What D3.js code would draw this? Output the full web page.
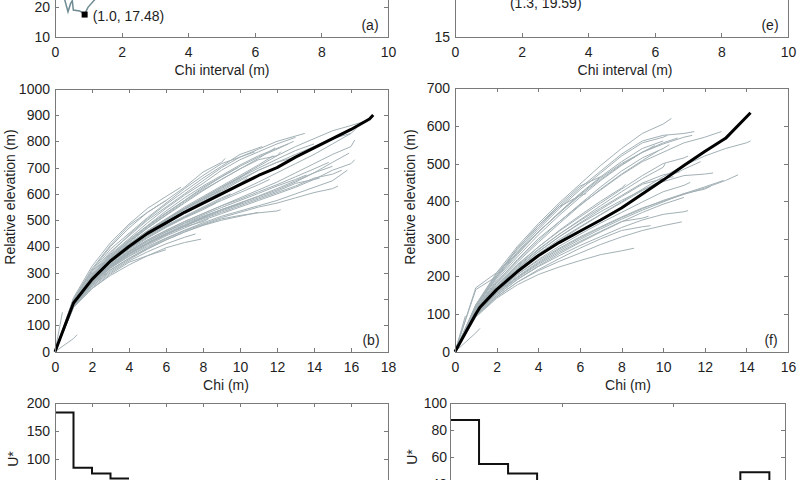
<!DOCTYPE html>
<html>
<head>
<meta charset="utf-8">
<script src="https://cdn.jsdelivr.net/npm/d3@7"></script>
<style>
  body { margin: 0; background: #fff; }
  svg { display: block; font-family: "Liberation Sans", Arial, sans-serif; }
  .axis path, .axis line { stroke: #7a7a7a; stroke-width: 1; shape-rendering: crispEdges; }
  .axis text { font-size: 14px; fill: #1e1e1e; }
  .lbl { font-size: 14px; fill: #1e1e1e; }
  .gray { fill: none; stroke: #a3b1b6; stroke-width: 1; }
  .mean { fill: none; stroke: #000; stroke-width: 3; stroke-linejoin: round; }
  .step { fill: none; stroke: #111; stroke-width: 2; }
</style>
</head>
<body>
<svg width="800" height="480"></svg>
<script>
// ---- data ----
// (a) misfit vs chi interval, only the bottom of the curve is visible
const curveA = [[0.28, 22.9], [0.39, 18.4], [0.47, 21.2], [0.52, 22.1], [0.55, 19.0],
  [0.74, 18.7], [0.89, 17.6], [0.99, 19.9], [1.23, 22.9]]
const bestA = [0.89, 17.48]
const bestALabel = '(1.0, 17.48)'
const bestELabel = '(1.3, 19.59)'

// (b) mean chi profile (black) and tributary profiles (gray)
const meanChiB = [0, 1, 2, 3, 4, 5, 6, 7, 8, 9, 10, 11, 12, 13, 14, 15, 16, 17, 17.2]
const meanElevB = [0, 185, 275, 345, 400, 450, 490, 530, 565, 600, 635, 670, 700, 740, 775, 810, 845, 885, 900]
// z[i] is the elevation at chi = i, the last value is at chi = end
const tribsB = [
  { end: 13.5, z: [0, 200, 300, 380, 440, 500, 550, 600, 650, 700, 740, 770, 800, 830] },
  { end: 13.0, z: [0, 190, 290, 370, 430, 490, 545, 595, 640, 690, 730, 760, 790, 815] },
  { end: 12.6, z: [0, 180, 285, 365, 425, 480, 535, 585, 630, 670, 710, 745, 790] },
  { end: 11.2, z: [0, 195, 295, 375, 445, 505, 560, 610, 660, 705, 750, 780] },
  { end: 12.9, z: [0, 185, 290, 360, 420, 475, 525, 575, 625, 665, 705, 740, 770, 800] },
  { end: 10.8, z: [0, 200, 305, 390, 450, 510, 565, 620, 670, 715, 740, 760] },
  { end: 12.2, z: [0, 190, 280, 355, 415, 470, 520, 570, 615, 655, 695, 730, 745, 760] },
  { end: 9.2, z: [0, 200, 315, 405, 480, 530, 575, 625, 683, 720, 735] },
  { end: 6.8, z: [0, 205, 325, 415, 485, 545, 590, 625] },
  { end: 6.0, z: [0, 195, 310, 400, 470, 530, 575] },
  { end: 16.7, z: [0, 185, 280, 350, 410, 460, 505, 545, 585, 625, 665, 705, 745, 780, 810, 840, 860, 875] },
  { end: 16.3, z: [0, 180, 275, 345, 400, 450, 490, 530, 570, 610, 650, 690, 720, 750, 780, 810, 830, 850] },
  { end: 16.2, z: [0, 180, 265, 330, 380, 425, 460, 495, 525, 555, 585, 615, 645, 680, 715, 750, 780, 805] },
  { end: 16.0, z: [0, 182, 270, 338, 390, 435, 475, 510, 545, 580, 612, 645, 680, 715, 750, 790, 830] },
  { end: 15.9, z: [0, 175, 260, 320, 370, 410, 445, 480, 510, 540, 565, 590, 615, 645, 680, 720, 755] },
  { end: 15.5, z: [0, 178, 262, 325, 372, 412, 448, 478, 505, 530, 555, 580, 605, 630, 660, 675, 690] },
  { end: 15.3, z: [0, 170, 250, 310, 355, 395, 430, 460, 485, 510, 530, 550, 565, 585, 605, 620, 630] },
  { end: 16.2, z: [0, 175, 258, 318, 365, 405, 440, 470, 500, 525, 550, 575, 600, 625, 655, 690, 715, 730] },
  { end: 14.8, z: [0, 182, 268, 332, 382, 425, 462, 495, 525, 555, 580, 608, 635, 665, 695, 720] },
  { end: 15.8, z: [0, 176, 258, 318, 362, 400, 432, 462, 490, 515, 535, 555, 575, 600, 625, 650, 690] },
  { end: 12.2, z: [0, 174, 255, 312, 355, 392, 425, 455, 482, 505, 518, 528, 535, 540] },
  { end: 11.0, z: [0, 172, 250, 305, 350, 390, 425, 455, 480, 500, 515, 530] },
  { end: 14.3, z: [0, 180, 262, 322, 370, 410, 445, 478, 508, 535, 560, 585, 610, 640, 655, 660] },
  { end: 7.9, z: [0, 170, 240, 290, 330, 365, 395, 415, 428] },
  { end: 7.6, z: [0, 172, 245, 300, 345, 380, 410, 435, 448] },
  { end: 6.0, z: [0, 168, 240, 295, 340, 365, 388] },
  { end: 11.8, z: [0, 190, 285, 355, 410, 460, 505, 550, 590, 630, 670, 710, 745] },
  { end: 10.6, z: [0, 185, 278, 350, 405, 455, 500, 540, 580, 620, 660, 690] },
  { end: 9.8, z: [0, 183, 272, 342, 395, 445, 485, 525, 560, 595, 625] },
  { end: 9.5, z: [0, 180, 270, 338, 390, 440, 480, 515, 550, 585, 600] },
  { end: 13.1, z: [0, 186, 276, 348, 402, 452, 495, 535, 575, 615, 655, 690, 720, 740, 745] },
  { end: 11.6, z: [0, 184, 270, 340, 392, 440, 478, 512, 545, 575, 605, 635, 655] },
  { end: 8.7, z: [0, 178, 266, 333, 385, 432, 472, 508, 540, 565] },
  { end: 9.9, z: [0, 192, 290, 365, 425, 478, 528, 575, 620, 665, 700] },
  { end: 11.9, z: [0, 188, 285, 360, 418, 470, 518, 565, 612, 655, 695, 735, 775] },
  { end: 10.2, z: [0, 176, 262, 328, 378, 420, 455, 488, 515, 540, 562, 570] },
  { end: 8.3, z: [0, 175, 260, 325, 372, 412, 445, 475, 495, 505] },
  { end: 14.0, z: [0, 188, 282, 352, 408, 458, 502, 545, 585, 625, 662, 698, 732, 765, 790] },
  { end: 10.4, z: [0, 182, 274, 344, 398, 448, 492, 532, 570, 605, 640, 660] },
  { end: 13.6, z: [0, 178, 266, 330, 378, 420, 456, 490, 520, 548, 575, 602, 630, 655, 672] },
  { end: 9.0, z: [0, 186, 278, 348, 404, 455, 500, 542, 580, 615] },
  { end: 15.0, z: [0, 176, 262, 326, 374, 415, 450, 483, 512, 540, 566, 592, 620, 650, 680, 705] },
  { end: 1.2, z: [0, 50, 65] },
  { end: 0.4, z: [0, 150] },
  { end: 1.6, z: [0, 190, 230] }
]

// (f) same for the second basin
const meanChiF = [0, 1, 1.2, 2, 3, 4, 5, 6, 7, 8, 9, 10, 11, 12, 13, 14.2]
const meanElevF = [0, 100, 118, 165, 213, 255, 290, 320, 350, 382, 419, 456, 495, 532, 567, 635]
const tribsF = [
  { end: 10.4, z: [0, 125, 210, 280, 340, 395, 445, 495, 540, 580, 605, 620] },
  { end: 10.2, z: [0, 120, 200, 265, 325, 380, 430, 475, 520, 555, 570, 575] },
  { end: 10.0, z: [0, 118, 195, 258, 318, 370, 420, 465, 505, 540, 560] },
  { end: 11.5, z: [0, 122, 205, 270, 330, 385, 435, 480, 525, 560, 575, 580, 585] },
  { end: 10.7, z: [0, 115, 190, 252, 310, 362, 410, 455, 495, 530, 555, 568] },
  { end: 9.6, z: [0, 120, 198, 262, 318, 368, 418, 462, 500, 530, 548] },
  { end: 7.0, z: [0, 165, 200, 275, 335, 390, 440, 465] },
  { end: 6.3, z: [0, 125, 205, 275, 335, 385, 415, 420] },
  { end: 12.8, z: [0, 112, 185, 245, 300, 345, 390, 430, 470, 505, 530, 555, 570, 585] },
  { end: 11.4, z: [0, 170, 210, 262, 318, 368, 415, 458, 497, 530, 552, 570, 575] },
  { end: 14.2, z: [0, 105, 168, 218, 260, 298, 332, 365, 398, 432, 465, 495, 520, 540, 555, 560] },
  { end: 13.6, z: [0, 100, 158, 205, 242, 275, 305, 332, 358, 382, 400, 418, 435, 455, 470] },
  { end: 12.4, z: [0, 108, 170, 222, 265, 305, 340, 372, 402, 430, 452, 468, 472, 475] },
  { end: 10.8, z: [0, 110, 175, 228, 272, 312, 348, 382, 415, 448, 470, 478] },
  { end: 11.2, z: [0, 112, 178, 232, 278, 320, 358, 395, 432, 468, 500, 515, 520] },
  { end: 10.5, z: [0, 105, 168, 220, 265, 305, 342, 378, 412, 445, 460, 465] },
  { end: 10.3, z: [0, 115, 185, 242, 295, 345, 392, 438, 480, 515, 540, 550] },
  { end: 11.2, z: [0, 98, 150, 192, 226, 255, 282, 306, 330, 350, 365, 372, 375] },
  { end: 10.9, z: [0, 95, 145, 185, 215, 240, 262, 285, 305, 322, 335, 345] },
  { end: 8.6, z: [0, 92, 142, 178, 205, 225, 242, 258, 268, 275] },
  { end: 12.3, z: [0, 100, 155, 198, 235, 268, 298, 326, 352, 376, 398, 420, 432, 440] },
  { end: 11.3, z: [0, 102, 160, 205, 245, 280, 312, 342, 370, 398, 425, 442, 450] },
  { end: 11.0, z: [0, 97, 150, 192, 228, 260, 290, 318, 345, 370, 392, 410] },
  { end: 9.3, z: [0, 99, 154, 196, 232, 264, 293, 320, 346, 355, 360] },
  { end: 9.4, z: [0, 94, 146, 185, 218, 247, 275, 300, 322, 332, 335] },
  { end: 12.9, z: [0, 102, 158, 200, 238, 272, 302, 330, 356, 380, 402, 420, 438, 455] },
  { end: 9.8, z: [0, 112, 182, 238, 290, 340, 388, 432, 472, 508, 535] },
  { end: 11.8, z: [0, 104, 165, 214, 256, 294, 330, 364, 396, 428, 458, 485, 505] },
  { end: 10.1, z: [0, 108, 172, 225, 270, 312, 350, 388, 425, 460, 490, 500] },
  { end: 8.2, z: [0, 110, 176, 230, 278, 322, 362, 400, 435, 445] },
  { end: 0.5, z: [0, 95] },
  { end: 1.2, z: [0, 50, 62] }
]

// bottom panels: U* per chi interval (null = below the visible part)
const stepWidthC = 1.0
const uStarC = [183, 85, 75, 66]
const stepWidthG = 1.3
const uStarG = [87.5, 55, 48, null, null, null, null, null, null, null, 49, null]

const svg = d3.select('svg')
const fmt = d3.format('d')

drawTopPanel({
  x: d3.scaleLinear().domain([0, 10]).range([55, 388]),
  y: d3.scaleLinear().domain([10, 40]).range([37, -53]),
  yTicks: [10, 20], letter: '(a)', labelX: 222
}, (g, x, y) => {
  g.append('path').datum(curveA)
    .attr('fill', 'none').attr('stroke', '#6f8b94').attr('stroke-width', 1.5)
    .attr('d', d3.line().x(d => x(d[0])).y(d => y(d[1])))
  g.append('rect')
    .attr('x', x(bestA[0]) - 3).attr('y', y(bestA[1]) - 3)
    .attr('width', 6).attr('height', 6).attr('fill', '#000')
  g.append('text').attr('class', 'lbl')
    .attr('x', x(bestA[0]) + 8).attr('y', y(bestA[1]) + 6).text(bestALabel)
})

drawTopPanel({
  x: d3.scaleLinear().domain([0, 10]).range([455, 788]),
  y: d3.scaleLinear().domain([15, 20]).range([37, -20]),
  yTicks: [15], letter: '(e)', labelX: 625
}, (g, x, y) => {
  g.append('text').attr('class', 'lbl')
    .attr('x', x(1.65)).attr('y', y(15) - 29).text(bestELabel)
})

drawChiPanel({
  x: d3.scaleLinear().domain([0, 18]).range([55, 388]),
  y: d3.scaleLinear().domain([0, 1000]).range([351.7, 88.7]),
  xTicks: d3.range(0, 19, 2), yTicks: d3.range(0, 1001, 100),
  tribs: tribsB, meanChi: meanChiB, meanElev: meanElevB,
  letter: '(b)', labelX: 226, yLabelX: 15
})

drawChiPanel({
  x: d3.scaleLinear().domain([0, 16]).range([455, 788]),
  y: d3.scaleLinear().domain([0, 700]).range([351.7, 88.3]),
  xTicks: d3.range(0, 17, 2), yTicks: d3.range(0, 701, 100),
  tribs: tribsF, meanChi: meanChiF, meanElev: meanElevF,
  letter: '(f)', labelX: 628, yLabelX: 415
})

drawStepPanel({
  x: d3.scaleLinear().domain([0, 18]).range([55, 388]),
  y: d3.scaleLinear().domain([0, 200]).range([515.6, 403]),
  xTicks: d3.range(0, 19, 2), yTicks: d3.range(0, 201, 50), pad: 5,
  values: uStarC, width: stepWidthC, uX: 18, uY: 459
})

drawStepPanel({
  x: d3.scaleLinear().domain([0, 15]).range([450, 785]),
  y: d3.scaleLinear().domain([0, 100]).range([538.7, 403]),
  xTicks: [0, 5, 10, 15], yTicks: d3.range(0, 101, 20), pad: 3,
  values: uStarG, width: stepWidthG, uX: 417, uY: 457
})

// ---- axes helpers (matlab style: box, ticks pointing in) ----
function axisG (cls) {
  return svg.append('g').attr('class', 'axis ' + cls)
}

function drawBottom (x, y, ticks, labels) {
  axisG('bottom').attr('transform', `translate(0,${y.range()[0]})`)
    .call(d3.axisBottom(x).tickValues(ticks).tickSizeInner(-4).tickSizeOuter(0)
      .tickPadding(10).tickFormat(labels ? fmt : ''))
}

function drawTop (x, y, ticks) {
  axisG('top').attr('transform', `translate(0,${y.range()[1]})`)
    .call(d3.axisTop(x).tickValues(ticks).tickSizeInner(-4).tickSizeOuter(0).tickFormat(''))
}

function drawLeft (x, y, ticks, pad) {
  axisG('left').attr('transform', `translate(${x.range()[0]},0)`)
    .call(d3.axisLeft(y).tickValues(ticks).tickSizeInner(-4).tickSizeOuter(0)
      .tickPadding(pad).tickFormat(fmt))
}

function drawRight (x, y, ticks) {
  axisG('right').attr('transform', `translate(${x.range()[1]},0)`)
    .call(d3.axisRight(y).tickValues(ticks).tickSizeInner(-4).tickSizeOuter(0).tickFormat(''))
}

function drawTopPanel ({ x, y, yTicks, letter, labelX }, drawContent) {
  const xTicks = d3.range(0, 11, 2)
  drawContent(svg.append('g'), x, y)
  drawBottom(x, y, xTicks, true)
  drawLeft(x, y, yTicks, 5)
  drawRight(x, y, yTicks)
  svg.append('text').attr('class', 'lbl').attr('text-anchor', 'middle')
    .attr('x', x.range()[1] - 18).attr('y', y.range()[0] - 7).text(letter)
  svg.append('text').attr('class', 'lbl').attr('text-anchor', 'middle')
    .attr('x', labelX).attr('y', y.range()[0] + 38).text('Chi interval (m)')
}

function tribPoints (p) {
  return p.z.map((v, i) => [i === p.z.length - 1 ? p.end : i, v])
}

function drawChiPanel ({ x, y, xTicks, yTicks, tribs, meanChi, meanElev, letter, labelX, yLabelX }) {
  const line = d3.line().x(d => x(d[0])).y(d => y(d[1]))
  const g = svg.append('g')
  g.selectAll('path.gray').data(tribs).join('path')
    .attr('class', 'gray').attr('d', d => line(tribPoints(d)))
  g.append('path').datum(d3.zip(meanChi, meanElev))
    .attr('class', 'mean').attr('d', line)

  drawBottom(x, y, xTicks, true)
  drawTop(x, y, xTicks)
  drawLeft(x, y, yTicks, 5)
  drawRight(x, y, yTicks)

  svg.append('text').attr('class', 'lbl').attr('text-anchor', 'middle')
    .attr('x', x.range()[1] - 17).attr('y', y.range()[0] - 7).text(letter)
  svg.append('text').attr('class', 'lbl').attr('text-anchor', 'middle')
    .attr('x', labelX).attr('y', y.range()[0] + 38).text('Chi (m)')
  svg.append('text').attr('class', 'lbl').attr('text-anchor', 'middle')
    .attr('transform', `translate(${yLabelX},197) rotate(-90)`).text('Relative elevation (m)')
}

function drawStepPanel ({ x, y, xTicks, yTicks, pad, values, width, uX, uY }) {
  const floor = y.domain()[0]
  const pts = values.map((v, i) => [i * width, v === null ? floor : v])
  pts.push([values.length * width, pts[pts.length - 1][1]])
  svg.append('path').datum(pts).attr('class', 'step')
    .attr('d', d3.line().curve(d3.curveStepAfter).x(d => x(d[0])).y(d => y(d[1])))

  drawTop(x, y, xTicks)
  drawLeft(x, y, yTicks, pad)
  drawRight(x, y, yTicks)
  svg.append('text').attr('class', 'lbl').attr('text-anchor', 'middle')
    .attr('transform', `translate(${uX},${uY}) rotate(-90)`).text('U*')
}
</script>
</body>
</html>
